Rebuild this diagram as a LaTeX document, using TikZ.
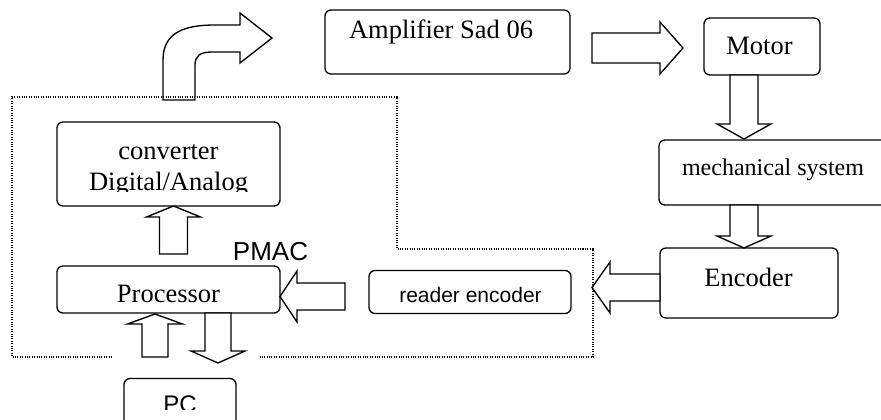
\documentclass[tikz,border=0pt]{standalone}
\usepackage{fontspec}
\setmainfont{Liberation Serif}
\newfontfamily\arialf{Liberation Sans}
\usetikzlibrary{calc}
\tikzset{
  box/.style={draw, line width=1.35pt, rounded corners=6pt, inner sep=0pt},
  barrow/.style={draw, fill=white, line width=1.35pt, line join=miter},
  frame/.style={draw, line width=1.3pt, dash pattern=on 1.1pt off 1.3pt},
  tnode/.style={inner sep=0pt, anchor=base},
  tms/.style={font=\fontsize{26.5}{30}\selectfont},
  tmsm/.style={font=\fontsize{24}{28}\selectfont},
  tar/.style={font=\arialf\fontsize{26}{30}\selectfont},
  tarsm/.style={font=\arialf\fontsize{21}{25}\selectfont},
}
% #1 tail, #2 tip, #3 shaft half width, #4 head half width, #5 head length
\newcommand\blockarr[5]{%
  \coordinate (ba-hb) at ($(#2)!#5!(#1)$);
  \draw[barrow] ($(#1)!#3!90:(#2)$) -- ($(ba-hb)!#3!90:(#2)$) -- ($(ba-hb)!#4!90:(#2)$)
     -- (#2) -- ($(ba-hb)!#4!-90:(#2)$) -- ($(ba-hb)!#3!-90:(#2)$) -- ($(#1)!#3!-90:(#2)$) -- cycle;
}
\begin{document}
\begin{tikzpicture}[x=1pt,y=-1pt]
\useasboundingbox (0,0) rectangle (881,420);

% boxes
\node[box, minimum width=245pt, minimum height=64pt] (amp) at (447.5,42) {};
\node[box, minimum width=116pt, minimum height=57pt] (motor) at (762,46.5) {};
\node[box, minimum width=228pt, minimum height=65pt] (mech) at (773,172.5) {};
\node[box, minimum width=178pt, minimum height=70pt] (enc) at (749,283) {};
\node[box, minimum width=202pt, minimum height=43pt] (reader) at (470,292) {};
\node[box, minimum width=223pt, minimum height=47pt] (proc) at (168.5,289.5) {};
\node[box, minimum width=223pt, minimum height=84pt] (conv) at (168.5,164) {};
\node[box, minimum width=112pt, minimum height=61pt] (pc) at (180,409) {};

% texts
\node[tnode, tms] (tamp) at (441,39) {Amplifier Sad 06};
\node[tnode, tms] (tmotor) at (759.5,55) {Motor};
\node[tnode, tmsm] (tmech) at (773,175) {mechanical system};
\node[tnode, tms] (tenc) at (748.5,286) {Encoder};
\node[tnode, tarsm] (tread) at (470.5,302.5) {reader encoder};
\node[tnode, tms] (tproc) at (168.5,302) {Processor};
\node[tnode, tar] (tpmac) at (270.5,260) {PMAC};
\node[tnode, tms] (tconv1) at (168.5,159) {converter};
\begin{scope}
  \clip (0,0) rectangle (881,191);
  \node[tnode, tms] (tconv2) at (168.5,190) {Digital/Analog};
\end{scope}
\begin{scope}
  \clip (0,0) rectangle (881,409.5);
  \node[tnode, font=\arialf\fontsize{24}{28}\selectfont] (tpc) at (180,412) {PC};
\end{scope}

% block arrows
\blockarr{592,48}{683,48}{15pt}{26pt}{23pt}
\blockarr{744,75}{744,139}{14pt}{27pt}{15pt}
\blockarr{744,205}{744,248}{14pt}{27pt}{12pt}
\blockarr{660,287.5}{592,287.5}{13.5pt}{25.5pt}{18pt}
\blockarr{345,296.5}{280,296.5}{13.5pt}{25.5pt}{17pt}
\blockarr{173.5,254}{173.5,206}{14pt}{27pt}{11pt}
\blockarr{155,357}{155,314}{13pt}{27.5pt}{10pt}
\blockarr{218,313}{218,363}{13pt}{27pt}{12pt}

% curved arrow
\draw[barrow] (163,100) -- (163,60) .. controls (163,32) and (185,25) .. (215,25)
  -- (240,25) -- (240,13) -- (272,38) -- (240,63) -- (240,52) -- (212,52)
  .. controls (200,52) and (195,56) .. (195,65) -- (195,100) -- cycle;

% dotted PMAC frame
\draw[frame] (112,357) -- (12,357) -- (12,97) -- (397,97) -- (397,249)
  -- (593,249) -- (593,357) -- (260,357);
\end{tikzpicture}
\end{document}
